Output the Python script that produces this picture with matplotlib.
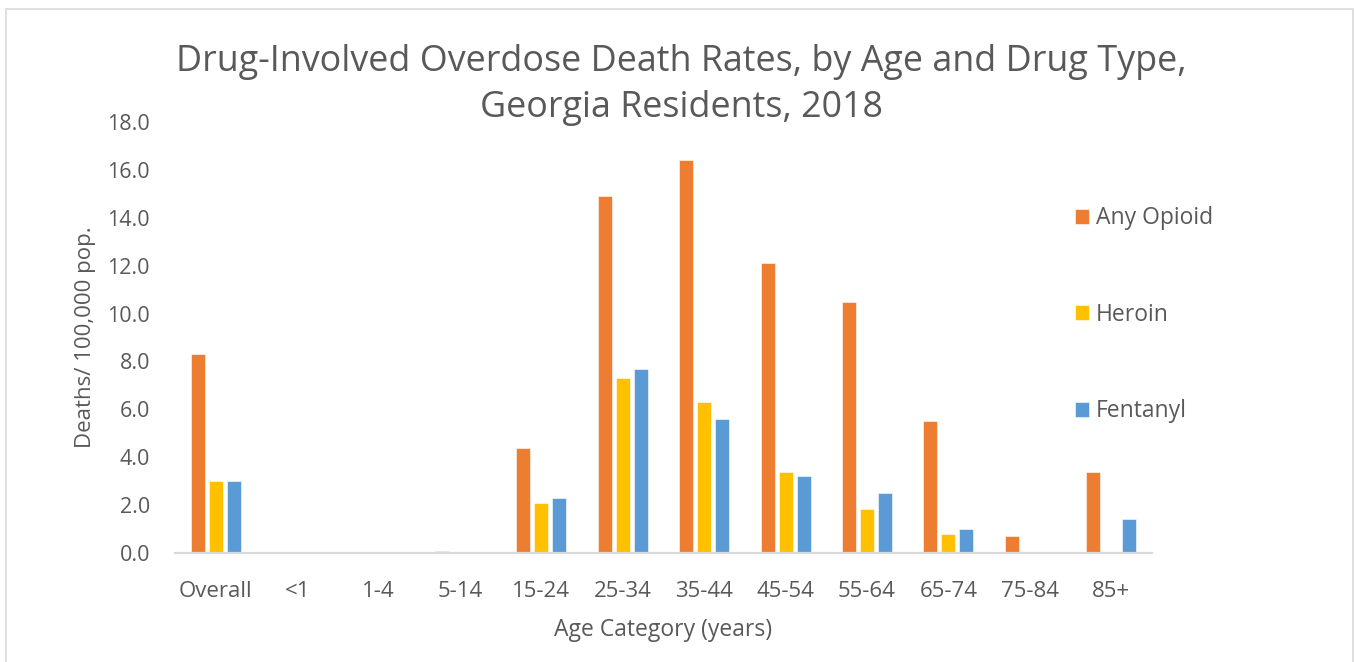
import numpy as np
import matplotlib.pyplot as plt
from matplotlib.patches import Rectangle

categories = ["Overall", "<1", "1-4", "5-14", "15-24", "25-34", "35-44",
              "45-54", "55-64", "65-74", "75-84", "85+"]
any_opioid = [8.3, 0.0, 0.0, 0.1, 4.4, 14.9, 16.4, 12.1, 10.5, 5.5, 0.7, 3.4]
heroin = [3.0, 0.0, 0.0, 0.0, 2.1, 7.3, 6.3, 3.4, 1.85, 0.8, 0.0, 0.0]
fentanyl = [3.0, 0.0, 0.0, 0.0, 2.3, 7.7, 5.6, 3.2, 2.5, 1.0, 0.0, 1.4]

txt = "#595959"
plt.rcParams['font.family'] = ['Open Sans', 'DejaVu Sans']

fig = plt.figure(figsize=(13.54, 6.62), dpi=100)
ax = fig.add_axes([175 / 1354, 1 - 553 / 662, (1152 - 175) / 1354, (553 - 122) / 662])

x = np.arange(len(categories))
w = 0.172
off = 0.221
ax.bar(x - off, any_opioid, w, color="#ED7D31", edgecolor="white", linewidth=0.4, label="Any Opioid")
ax.bar(x, heroin, w, color="#FFC000", edgecolor="white", linewidth=0.4, label="Heroin")
ax.bar(x + off, fentanyl, w, color="#5B9BD5", edgecolor="white", linewidth=0.4, label="Fentanyl")

ax.set_xlim(-0.5, len(categories) - 0.5)
ax.set_ylim(0, 18)
ax.set_yticks(np.arange(0, 18.1, 2))
ax.set_yticklabels([f"{v:.1f}" for v in np.arange(0, 18.1, 2)])
ax.set_xticks(x)
ax.set_xticklabels(categories)
ax.tick_params(axis="both", length=0, colors=txt)
ax.tick_params(axis="y", pad=18, labelsize=15.5)
ax.tick_params(axis="x", pad=20, labelsize=16)
for s in ["top", "right", "left"]:
    ax.spines[s].set_visible(False)
ax.spines["bottom"].set_color("#d9d9d9")
ax.spines["bottom"].set_linewidth(1.6)

ax.set_ylabel("Deaths/ 100,000 pop.", fontsize=16, color=txt, labelpad=8)
ax.set_xlabel("Age Category (years)", fontsize=16.5, color=txt, labelpad=12)

fig.text(0.503, 1 - 85 / 662, "Drug-Involved Overdose Death Rates, by Age and Drug Type,\nGeorgia Residents, 2018",
         ha="center", va="center", fontsize=25.8, color=txt, linespacing=1.36)

leg = ax.legend(loc="upper left", bbox_to_anchor=(1066 / 1354, 1 - 197 / 662),
                bbox_transform=fig.transFigure, frameon=False, fontsize=16.5,
                handlelength=0.62, handleheight=0.62, handletextpad=0.3,
                labelspacing=3.17, labelcolor=txt, borderaxespad=0)

fig.patches.append(Rectangle((6 / 1354, -0.1), (1353 - 6) / 1354, 1.1 - 9 / 662,
                             transform=fig.transFigure, fill=False,
                             edgecolor="#d9d9d9", linewidth=1.2))

fig.savefig("out.png", dpi=100)
